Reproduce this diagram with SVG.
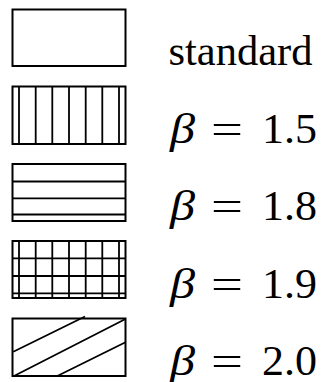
<svg xmlns="http://www.w3.org/2000/svg" width="324" height="382" viewBox="0 0 324 382">
<style>
.box{fill:#fff;stroke:#000;stroke-width:2}
.h{stroke:#000;stroke-width:1.8;fill:none}
.t{font-family:"Liberation Serif","Times New Roman",serif;font-size:42px;fill:#000}
.b{font-style:italic}
</style>
<rect width="324" height="382" fill="#fff"/>
<g id="standard">
<rect class="box" x="12.5" y="9.5" width="113" height="56.5"/>
<text class="t" x="168.5" y="65" style="font-size:42.5px">standard</text>
</g>
<g id="beta15">
<rect class="box" x="12.5" y="86.5" width="113" height="57.5"/>
<path class="h" d="M19 86.5V144M35.7 86.5V144M52.3 86.5V144M69 86.5V144M85.7 86.5V144M102.3 86.5V144M119 86.5V144"/>
<text class="t" y="142.5"><tspan class="b" x="170" textLength="25" lengthAdjust="spacingAndGlyphs">β</tspan><tspan x="211" textLength="32" lengthAdjust="spacingAndGlyphs">=</tspan><tspan x="262" textLength="55" lengthAdjust="spacingAndGlyphs">1.5</tspan></text>
</g>
<g id="beta18">
<rect class="box" x="12.5" y="164" width="113" height="57"/>
<path class="h" d="M12.5 181.5H125.5M12.5 198.3H125.5M12.5 214.5H125.5"/>
<text class="t" y="220"><tspan class="b" x="170" textLength="25" lengthAdjust="spacingAndGlyphs">β</tspan><tspan x="211" textLength="32" lengthAdjust="spacingAndGlyphs">=</tspan><tspan x="262" textLength="55" lengthAdjust="spacingAndGlyphs">1.8</tspan></text>
</g>
<g id="beta19">
<rect class="box" x="12.5" y="241" width="113" height="57"/>
<path class="h" d="M19 241V298M35.7 241V298M52.3 241V298M69 241V298M85.7 241V298M102.3 241V298M119 241V298M12.5 258.3H125.5M12.5 276H125.5M12.5 293.3H125.5"/>
<text class="t" y="298"><tspan class="b" x="170" textLength="25" lengthAdjust="spacingAndGlyphs">β</tspan><tspan x="211" textLength="32" lengthAdjust="spacingAndGlyphs">=</tspan><tspan x="262" textLength="55" lengthAdjust="spacingAndGlyphs">1.9</tspan></text>
</g>
<g id="beta20">
<rect class="box" x="12.5" y="318.5" width="113" height="57.5"/>
<path class="h" d="M13.3 351.7L85 316.5M14 376L125.5 319M57.3 376L125.5 342.3"/>
<text class="t" y="374.5"><tspan class="b" x="170" textLength="25" lengthAdjust="spacingAndGlyphs">β</tspan><tspan x="211" textLength="32" lengthAdjust="spacingAndGlyphs">=</tspan><tspan x="262" textLength="55" lengthAdjust="spacingAndGlyphs">2.0</tspan></text>
</g>
</svg>
